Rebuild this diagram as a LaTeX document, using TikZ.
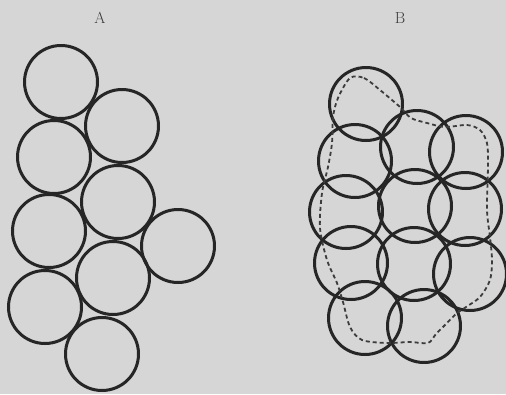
\documentclass[tikz,border=0pt]{standalone}
\usepackage{tikz}
\usetikzlibrary{backgrounds}
\definecolor{paper}{HTML}{D6D6D6}
\definecolor{ink}{HTML}{262626}
\definecolor{inkgray}{HTML}{3C3C3C}

\begin{document}
\begin{tikzpicture}[
                x=1pt, y=-1pt,
                ring/.style={circle, draw=ink, line width=3pt, minimum size=73pt, inner sep=0pt},
                title/.style={text=inkgray, font=\fontsize{16}{16}\selectfont},
                outline/.style={draw=inkgray, line width=1.8pt, dash pattern=on 4pt off 3pt}
            ]
                \fill[paper] (0,0) rectangle (506,394);
                \useasboundingbox (0,0) rectangle (506,394);

                % A: rings that only touch
                \node[title] (labA) at (100,18) {A};
                \node[ring] (a1) at (61,82) {};
                \node[ring] (a2) at (122,126) {};
                \node[ring] (a3) at (54,157) {};
                \node[ring] (a4) at (118,202) {};
                \node[ring] (a5) at (178,246) {};
                \node[ring] (a6) at (49,231) {};
                \node[ring] (a7) at (113,278) {};
                \node[ring] (a8) at (45,307) {};
                \node[ring] (a9) at (102,354) {};

                % B: rings that overlap
                \node[title] (labB) at (400,18) {B};
                \node[ring] (b1) at (366,104) {};
                \node[ring] (b2) at (355,161) {};
                \node[ring] (b3) at (417,147) {};
                \node[ring] (b4) at (466,152) {};
                \node[ring] (b5) at (346,212) {};
                \node[ring] (b6) at (415,206) {};
                \node[ring] (b7) at (465,209) {};
                \node[ring] (b8) at (351,263) {};
                \node[ring] (b9) at (414,264) {};
                \node[ring] (b10) at (470,274) {};
                \node[ring] (b11) at (365,318) {};
                \node[ring] (b12) at (424,326) {};

                \draw[outline] plot[smooth cycle, tension=0.5] coordinates {
                    (350,78) (364,78) (380,90) (400,107) (411,118) (427,123)
                    (445,127) (467,125) (480,130) (487,143) (488,165) (487,210)
                    (490,237) (492,260) (490,280) (480,297) (466,307) (456,314)
                    (446,324) (436,334) (428,343) (410,342) (387,343) (362,340)
                    (350,327) (343,302) (337,283) (327,260) (320,228) (322,193)
                    (328,167) (332,143) (333,117) (338,98)
                };
            \end{tikzpicture}
\end{document}
